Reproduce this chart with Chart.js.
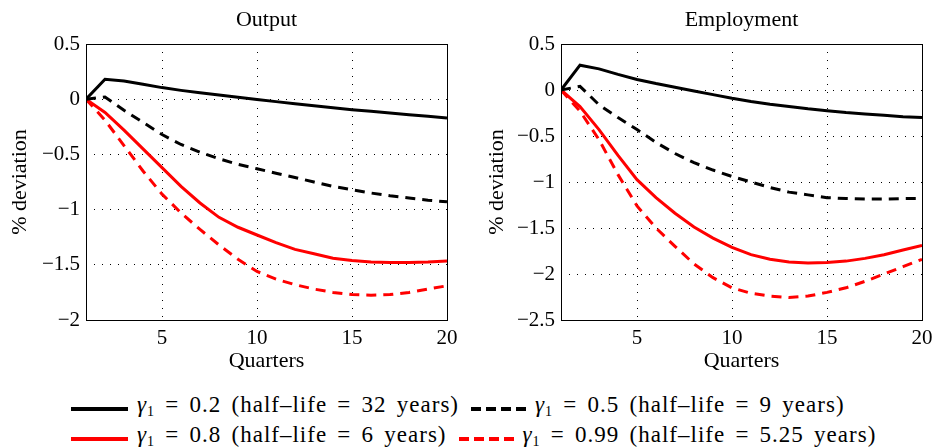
<!DOCTYPE html>
<html>
<head>
<meta charset="utf-8">
<script src="https://cdn.jsdelivr.net/npm/chart.js@4.4.0/dist/chart.umd.min.js"></script>
<style>
  body { margin: 0; width: 938px; height: 448px; background: #fff; position: relative; overflow: hidden; font-family: 'Liberation Serif', serif; }
  canvas { position: absolute; top: 0; }
  #outputChart { left: 0; }
  #employmentChart { left: 470px; }
  .legend { position: absolute; left: 71px; top: 391px; font-size: 23px; letter-spacing: 1px; word-spacing: 3.5px; color: #000; }
  .row { display: flex; align-items: center; height: 30px; white-space: nowrap; }
  .sample { width: 57px; height: 4px; margin-right: 9px; margin-top: 6px; flex: none; }
  .sample.dashed { width: 55px; }
  .text { margin-right: 12px; }
  .text i { font-style: italic; }
  .text sub { font-size: 14px; vertical-align: -4px; }
</style>
</head>
<body>
<canvas id="outputChart" width="460" height="375"></canvas>
<canvas id="employmentChart" width="468" height="375"></canvas>
<div class="legend" id="legend"></div>
<script>
const SERIF = "'Liberation Serif', 'Times New Roman', serif";

const quarters = [1, 2, 3, 4, 5, 6, 7, 8, 9, 10, 11, 12, 13, 14, 15, 16, 17, 18, 19, 20];
const xTickValues = [5, 10, 15, 20];

const gammaValues = ['0.2', '0.5', '0.8', '0.99'];
const halfLives = ['32', '9', '6', '5.25'];

// Output
const outputG02 = [0, 0.18, 0.165, 0.135, 0.105, 0.08, 0.058, 0.038, 0.018, -0.002, -0.022, -0.042, -0.06, -0.078, -0.095, -0.11, -0.125, -0.14, -0.155, -0.17];
const outputG05 = [0, 0.02, -0.10, -0.21, -0.32, -0.41, -0.48, -0.54, -0.59, -0.63, -0.67, -0.71, -0.75, -0.79, -0.82, -0.85, -0.875, -0.895, -0.915, -0.93];
const outputG08 = [0, -0.12, -0.28, -0.45, -0.62, -0.79, -0.94, -1.07, -1.16, -1.23, -1.30, -1.36, -1.40, -1.44, -1.46, -1.475, -1.48, -1.48, -1.475, -1.465];
const outputG099 = [0, -0.19, -0.42, -0.65, -0.86, -1.03, -1.18, -1.32, -1.45, -1.56, -1.63, -1.68, -1.72, -1.75, -1.77, -1.775, -1.77, -1.75, -1.72, -1.69];

// Employment
const employG02 = [0, 0.27, 0.23, 0.17, 0.115, 0.07, 0.03, -0.01, -0.05, -0.09, -0.125, -0.155, -0.18, -0.205, -0.225, -0.245, -0.26, -0.275, -0.29, -0.30];
const employG05 = [0, 0.04, -0.16, -0.30, -0.43, -0.57, -0.69, -0.79, -0.87, -0.94, -1.00, -1.06, -1.11, -1.14, -1.17, -1.18, -1.185, -1.185, -1.18, -1.18];
const employG08 = [0, -0.18, -0.43, -0.71, -0.975, -1.17, -1.34, -1.49, -1.61, -1.71, -1.79, -1.84, -1.87, -1.88, -1.875, -1.86, -1.83, -1.79, -1.74, -1.69];
const employG099 = [0, -0.23, -0.54, -0.92, -1.26, -1.50, -1.70, -1.89, -2.04, -2.15, -2.21, -2.24, -2.255, -2.24, -2.20, -2.15, -2.08, -2.00, -1.92, -1.84];

const seriesStyles = [
  { color: '#000000', dash: [] },
  { color: '#000000', dash: [10, 7] },
  { color: '#ff0000', dash: [] },
  { color: '#ff0000', dash: [10, 7] }
];

// box round the plot area, matlab style
const frame = {
  id: 'frame',
  afterDraw(chart) {
    const { ctx, chartArea: a } = chart;
    ctx.save();
    ctx.strokeStyle = '#000';
    ctx.lineWidth = 1;
    ctx.setLineDash([]);
    ctx.strokeRect(Math.round(a.left) + 0.5, Math.round(a.top) + 0.5,
      Math.round(a.right - a.left), Math.round(a.bottom - a.top));
    ctx.restore();
  }
};

const fmtTick = v => String(Math.round(v * 10) / 10).replace('-', '\u2212');

function makeChart(id, title, series, yMin, yMax, yWidth, yTitlePad, rightPad) {
  return new Chart(document.getElementById(id), {
    type: 'line',
    data: {
      datasets: series.map((vals, i) => ({
        data: quarters.map((q, j) => ({ x: q, y: vals[j] })),
        borderColor: seriesStyles[i].color,
        borderDash: seriesStyles[i].dash,
        borderWidth: 3,
        pointRadius: 0,
        tension: 0,
        fill: false
      }))
    },
    options: {
      responsive: false,
      animation: false,
      devicePixelRatio: 1,
      layout: { padding: { left: 0, right: rightPad, top: 0, bottom: 0 } },
      plugins: {
        legend: { display: false },
        tooltip: { enabled: false },
        title: {
          display: true,
          text: title,
          fullSize: false,
          color: '#000',
          font: { family: SERIF, size: 22, weight: 'normal' },
          padding: { top: 7, bottom: 10.6 }
        }
      },
      scales: {
        x: {
          type: 'linear',
          min: 1,
          max: 20,
          afterBuildTicks: s => { s.ticks = xTickValues.map(v => ({ value: v })); },
          afterFit: s => { s.height = 55; s.paddingLeft = 0; s.paddingRight = 0; },
          grid: { color: '#000', lineWidth: 1, drawTicks: false },
          border: { display: false, dash: [1, 7] },
          ticks: { color: '#000', padding: 6, maxRotation: 0, font: { family: SERIF, size: 21 } },
          title: { display: true, text: 'Quarters', color: '#000', font: { family: SERIF, size: 22 }, padding: { top: 0, bottom: 1 } }
        },
        y: {
          min: yMin,
          max: yMax,
          afterFit: s => { s.width = yWidth; },
          grid: { color: '#000', lineWidth: 1, drawTicks: false },
          border: { display: false, dash: [1, 7] },
          ticks: { stepSize: 0.5, color: '#000', padding: 6, font: { family: SERIF, size: 21 }, callback: fmtTick },
          title: { display: true, text: '% deviation', color: '#000', font: { family: SERIF, size: 22 }, padding: { top: yTitlePad, bottom: 0 } }
        }
      }
    },
    plugins: [frame]
  });
}

makeChart('outputChart', 'Output', [outputG02, outputG05, outputG08, outputG099], -2, 0.5, 86, 7, 13);
makeChart('employmentChart', 'Employment', [employG02, employG05, employG08, employG099], -2.5, 0.5, 91, 14, 16);

// legend
const legend = document.getElementById('legend');
const rows = [[0, 1], [2, 3]];
rows.forEach(r => {
  const row = document.createElement('div');
  row.className = 'row';
  r.forEach(i => {
    const st = seriesStyles[i];
    const sample = document.createElement('span');
    sample.className = st.dash.length ? 'sample dashed' : 'sample';
    sample.style.background = st.dash.length
      ? `repeating-linear-gradient(90deg, ${st.color} 0 10px, transparent 10px 15px)`
      : st.color;
    const txt = document.createElement('span');
    txt.className = 'text';
    txt.innerHTML = `<i>\u03b3</i><sub>1</sub> = ${gammaValues[i]} (half\u2013life = ${halfLives[i]} years)`;
    row.appendChild(sample);
    row.appendChild(txt);
  });
  legend.appendChild(row);
});
</script>
</body>
</html>
